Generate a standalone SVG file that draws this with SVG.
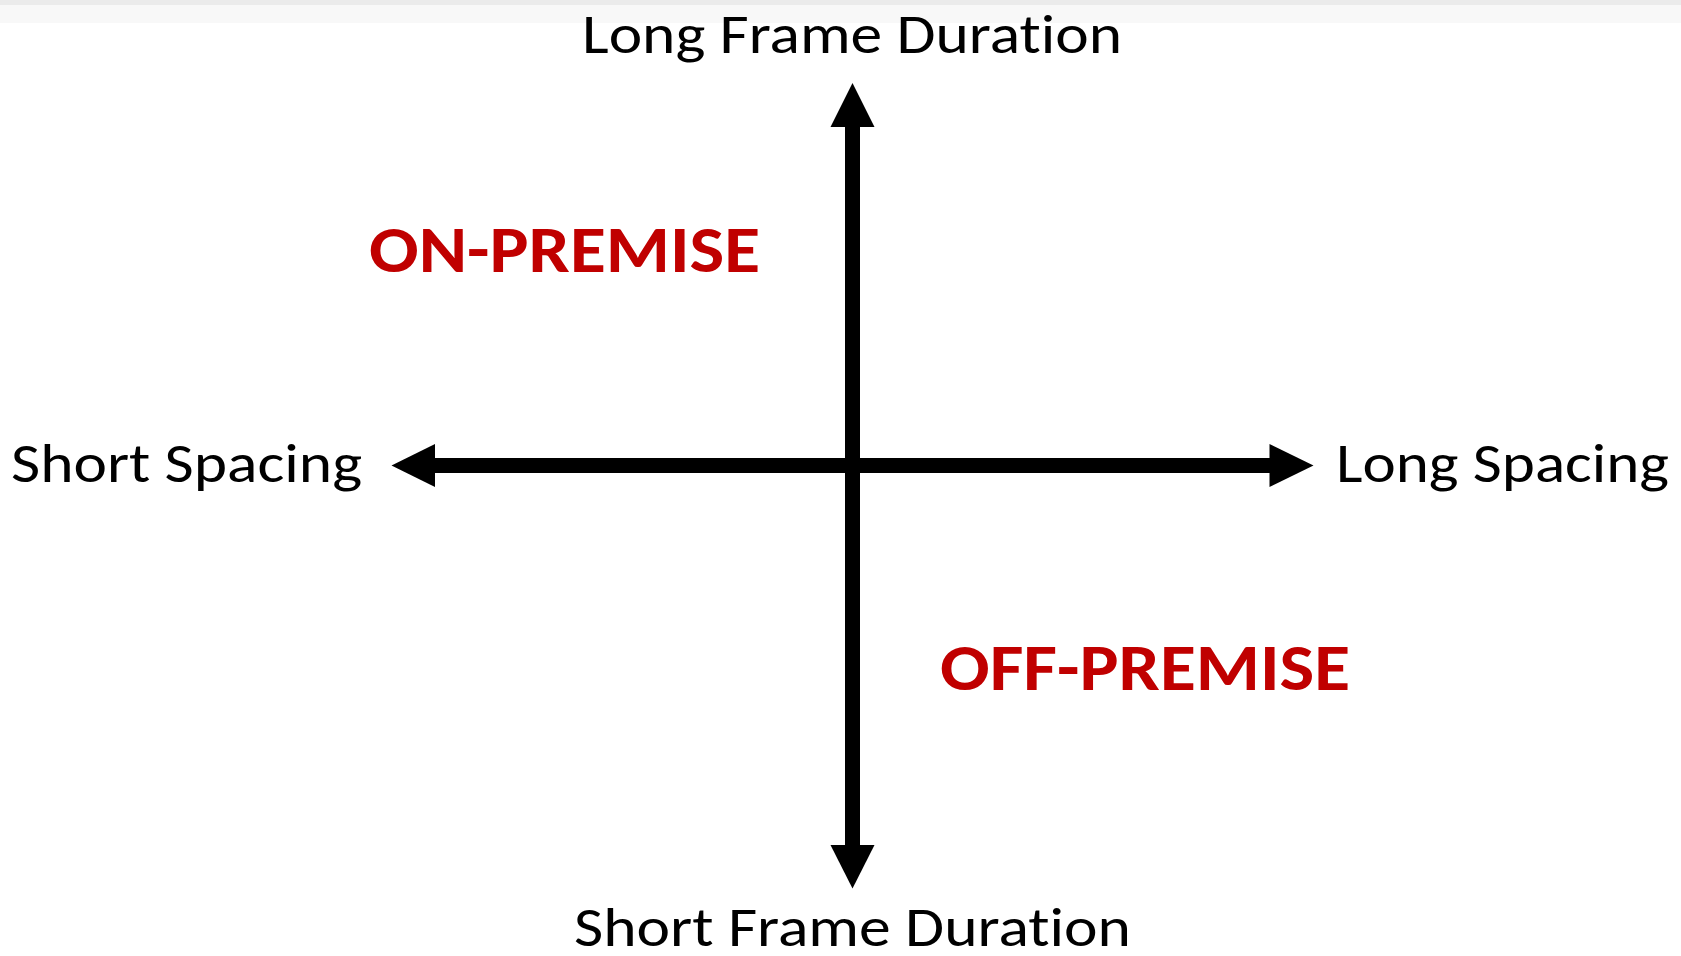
<svg xmlns="http://www.w3.org/2000/svg" width="1681" height="956" viewBox="0 0 1681 956">
<style>
.lbl{font-family:Carlito,"Open Sans","Liberation Sans",sans-serif;font-size:56px;fill:#000;font-variant-ligatures:none;font-feature-settings:"liga" 0,"clig" 0,"dlig" 0}
.quad{font-family:Carlito,"Open Sans","Liberation Sans",sans-serif;font-size:67px;font-weight:bold;fill:#C00000;font-variant-ligatures:none}
.ax{fill:#000}
</style>
<rect x="0" y="0" width="1681" height="956" fill="#fff"/>
<rect x="0" y="0" width="1681" height="5" fill="#ebebeb"/>
<rect x="0" y="5" width="1681" height="18" fill="#f8f8f8"/>
<g id="connectors">
<rect class="ax" x="845" y="125" width="15" height="722"/>
<polygon class="ax" points="852.5,83 874.5,127 830.5,127"/>
<polygon class="ax" points="852.5,888.5 874.5,845 830.5,845"/>
<rect class="ax" x="433" y="458" width="838" height="15"/>
<polygon class="ax" points="391.5,465.5 435,444 435,487"/>
<polygon class="ax" points="1313.5,465.5 1269.5,444 1269.5,487"/>
</g>
<g id="top-label"><text class="lbl" x="582" y="52.5" textLength="540" lengthAdjust="spacingAndGlyphs">Long Frame Duration</text></g>
<g id="bottom-label"><text class="lbl" x="574" y="946" textLength="557" lengthAdjust="spacingAndGlyphs">Short Frame Duration</text></g>
<g id="left-label"><text class="lbl" x="11" y="482" textLength="351" lengthAdjust="spacingAndGlyphs">Short Spacing</text></g>
<g id="right-label"><text class="lbl" x="1336" y="482" textLength="333" lengthAdjust="spacingAndGlyphs">Long Spacing</text></g>
<g id="on-premise"><text class="quad" x="369" y="271.5" textLength="391" lengthAdjust="spacingAndGlyphs">ON-PREMISE</text></g>
<g id="off-premise"><text class="quad" x="940" y="690" textLength="410" lengthAdjust="spacingAndGlyphs">OFF-PREMISE</text></g>
</svg>
